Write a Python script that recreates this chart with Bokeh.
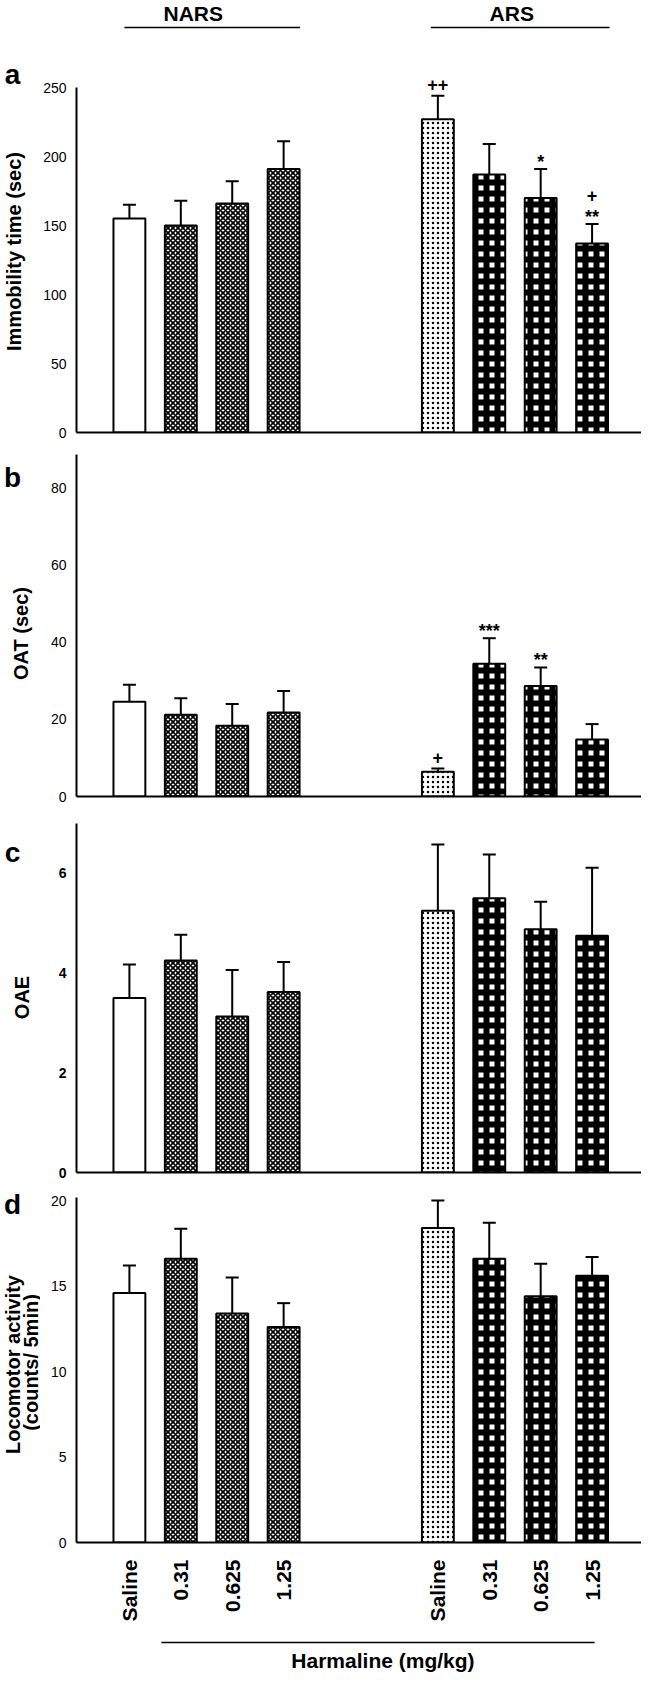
from math import pi
from bokeh.plotting import figure
from bokeh.models import (ColumnDataSource, Range1d, FixedTicker, Whisker, TeeHead)
from bokeh.core.properties import value
from bokeh.layouts import column, row
from bokeh.embed import file_html
from bokeh.resources import INLINE

# ---------------- data ----------------
groups = ["NARS", "ARS"]
doses = ["Saline", "0.31", "0.625", "1.25"]

imm_mean = [155, 150, 166, 191, 227, 187, 170, 137]
imm_sem = [10, 18, 16, 20, 17, 22, 21, 14]
oat_mean = [24.6, 21.2, 18.4, 21.8, 6.4, 34.5, 28.7, 14.8]
oat_sem = [4.4, 4.3, 5.6, 5.6, 0.9, 6.6, 4.8, 4.0]
oae_mean = [3.5, 4.25, 3.13, 3.62, 5.25, 5.5, 4.88, 4.75]
oae_sem = [0.67, 0.52, 0.93, 0.6, 1.33, 0.88, 0.55, 1.36]
loco_mean = [14.6, 16.6, 13.4, 12.6, 18.4, 16.6, 14.4, 15.6]
loco_sem = [1.6, 1.75, 2.1, 1.4, 1.6, 2.1, 1.9, 1.1]

sig_a = ["", "", "", "", "++", "", "*", "**"]
sig_a2 = ["", "", "", "", "", "", "", "+"]
sig_b = ["", "", "", "", "+", "***", "**", ""]

yticks_a = [0, 50, 100, 150, 200, 250]
yticks_b = [0, 20, 40, 60, 80]
yticks_c = [0, 2, 4, 6]
yticks_d = [0, 5, 10, 15, 20]

letters = ["a", "b", "c", "d"]
ytitles = ["Immobility time (sec)", "OAT (sec)", "OAE",
           "Locomotor activity", "(counts/ 5min)"]
xtitle = "Harmaline (mg/kg)"

# ---------------- style ----------------
FONT = "Liberation Sans"
bar_fill = ["white"] * 8
bar_hatch = [" ", "diagonal_cross", "diagonal_cross", "diagonal_cross",
             "dot", "cross", "cross", "cross"]
bar_hscale = [6, 5, 5, 5, 5, 11, 11, 11]
bar_hweight = [1, 1.7, 1.7, 1.7, 2, 6, 6, 6]

xpos = [g * 6 + d for g in range(len(groups)) for d in range(len(doses))]

X0, DX = 136.0, 51.5          # page px of first bar centre, px per slot
FL, FR = 83, 649              # frame left / right (page px)
GUT = 48                      # right edge of left gutter (page px)
PAGE_TOP, PAGE_BOT = 8, 1680


def xd(px):
    return (px - X0) / DX


# T: page y of top value vmax, B: page y of 0, ft: frame top, bb: bottom border
panels = {
    "a": dict(T=95, B=440, vmax=250.0, ft=8, fig_top=8, bb=12),
    "b": dict(T=462, B=804, vmax=88.8, ft=462, fig_top=452, bb=14),
    "c": dict(T=831, B=1180, vmax=7.0, ft=831, fig_top=818, bb=12),
    "d": dict(T=1205, B=1550, vmax=20.18, ft=1205, fig_top=1192, bb=90),
}


def ppu(k):
    g = panels[k]
    return (g["B"] - g["T"]) / g["vmax"]


def make_panel(k, means, sems, yticks, bold_ticks=False):
    g = panels[k]
    ymax = (g["B"] - g["ft"]) / ppu(k)
    height = (g["ft"] - g["fig_top"]) + (g["B"] - g["ft"]) + g["bb"]
    p = figure(width=FR - GUT, height=height, x_range=Range1d(xd(FL), xd(FR)),
               y_range=Range1d(0, ymax), output_backend="svg",
               toolbar_location=None, min_border_left=FL - GUT, min_border_right=0,
               min_border_top=g["ft"] - g["fig_top"], min_border_bottom=g["bb"])
    p.outline_line_color = None
    p.grid.visible = False
    p.background_fill_color = "white"
    p.border_fill_color = "white"

    upper = [m + s for m, s in zip(means, sems)]
    src = ColumnDataSource(dict(x=xpos, top=means, upper=upper, fill=bar_fill,
                                hp=bar_hatch, hs=bar_hscale, hw=bar_hweight))
    p.vbar(x="x", top="top", width=0.62, source=src, fill_color="fill",
           line_color="black", line_width=2, hatch_pattern="hp",
           hatch_scale="hs", hatch_weight="hw", hatch_color="black",
           hatch_alpha=1.0)
    w = Whisker(source=src, base="x", lower="top", upper="upper",
                dimension="height", line_width=2, line_color="black",
                lower_head=None,
                upper_head=TeeHead(size=13, line_width=2, line_color="black"))
    p.add_layout(w)

    ya = p.yaxis[0]
    ya.ticker = FixedTicker(ticks=yticks)
    ya.bounds = (0, g["vmax"] if k != "a" else yticks[-1])
    ya.major_tick_line_color = None
    ya.minor_tick_line_color = None
    ya.major_tick_out = 0
    ya.major_tick_in = 0
    ya.major_label_standoff = 10
    ya.major_label_text_font = FONT
    ya.major_label_text_font_size = "14px"
    ya.major_label_text_font_style = "bold" if bold_ticks else "normal"
    ya.major_label_text_color = "black"
    ya.axis_line_width = 2
    ya.axis_line_color = "black"

    xa = p.xaxis[0]
    xa.ticker = FixedTicker(ticks=[])
    xa.major_tick_line_color = None
    xa.minor_tick_line_color = None
    xa.major_tick_out = 0
    xa.major_tick_in = 0
    xa.major_label_standoff = 0
    xa.axis_line_width = 2
    xa.axis_line_color = "black"
    return p, upper


def add_sig(p, k, upper, marks, star_off, plus_off):
    xs, ys, ts = [], [], []
    for i, t in enumerate(marks):
        if t:
            off = star_off if "*" in t else plus_off
            xs.append(xpos[i])
            ys.append(upper[i] + off / ppu(k))
            ts.append(t)
    if xs:
        p.text(x=xs, y=ys, text=ts, text_font=value(FONT), text_font_style="bold",
               text_font_size="18px", text_align="center", text_baseline="middle",
               text_color="black")


# ---------------- panels ----------------
pa, up_a = make_panel("a", imm_mean, imm_sem, yticks_a)
add_sig(pa, "a", up_a, sig_a, 7, 11)
add_sig(pa, "a", up_a, sig_a2, 29, 29)


# group header inside panel a's (extended) frame
def ya_px(py):
    return (panels["a"]["B"] - py) / ppu("a")


hdr_x0 = [xd(131), xd(438)]
hdr_x1 = [xd(307), xd(617)]
hdr_c = [xd(200), xd(519)]
pa.text(x=hdr_c, y=[ya_px(21)] * 2, text=groups, text_font=value(FONT),
        text_font_style="bold", text_font_size="21px", text_align="center",
        text_baseline="middle", text_color="black")
pa.segment(x0=hdr_x0, x1=hdr_x1, y0=[ya_px(35)] * 2, y1=[ya_px(35)] * 2,
           line_width=1.4, line_color="black")

pb, up_b = make_panel("b", oat_mean, oat_sem, yticks_b)
add_sig(pb, "b", up_b, sig_b, 7, 11)

pc, up_c = make_panel("c", oae_mean, oae_sem, yticks_c, bold_ticks=True)

pd_, up_d = make_panel("d", loco_mean, loco_sem, yticks_d)
xa = pd_.xaxis[0]
xa.ticker = FixedTicker(ticks=xpos)
xa.major_label_overrides = {int(x): doses[i % len(doses)] for i, x in enumerate(xpos)}
xa.major_label_orientation = pi / 2
xa.major_label_standoff = 17
xa.major_label_text_font = FONT
xa.major_label_text_font_style = "bold"
xa.major_label_text_font_size = "21px"
xa.major_label_text_color = "black"

# footer: Harmaline line + title
foot_top = panels["d"]["fig_top"] + 13 + 345 + panels["d"]["bb"]
pf = figure(width=FR - GUT, height=PAGE_BOT - foot_top,
            x_range=Range1d(xd(FL), xd(FR)), y_range=Range1d(PAGE_BOT, foot_top),
            output_backend="svg", toolbar_location=None,
            min_border_left=FL - GUT, min_border_right=0, min_border_top=0,
            min_border_bottom=0)
pf.axis.visible = False
pf.grid.visible = False
pf.outline_line_color = None
pf.segment(x0=[xd(168)], x1=[xd(602)], y0=[1650], y1=[1650], line_width=1.4,
           line_color="black")
pf.text(x=[xd(390)], y=[1668], text=[xtitle], text_font=value(FONT),
        text_font_style="bold", text_font_size="21px", text_align="center",
        text_baseline="middle", text_color="black")

# left gutter: panel letters and y-axis titles (page coordinates)
pg = figure(width=GUT - 8, height=PAGE_BOT - PAGE_TOP, x_range=Range1d(8, GUT),
            y_range=Range1d(PAGE_BOT, PAGE_TOP), output_backend="svg",
            toolbar_location=None, min_border=0)
pg.axis.visible = False
pg.grid.visible = False
pg.outline_line_color = None
pg.text(x=[20, 20, 20, 20], y=[82, 485, 860, 1212], text=letters,
        text_font=value(FONT), text_font_style="bold", text_font_size="28px",
        text_align="center", text_baseline="alphabetic", text_color="black")
pg.text(x=[21, 28, 29, 20, 38], y=[259, 641, 1005, 1372, 1370], text=ytitles,
        angle=pi / 2, text_font=value(FONT), text_font_style="bold",
        text_font_size="20px", text_align="center", text_baseline="middle",
        text_color="black")

layout = row(pg, column(pa, pb, pc, pd_, pf, spacing=0), spacing=0)
open("out.html", "w").write(file_html(layout, INLINE))
